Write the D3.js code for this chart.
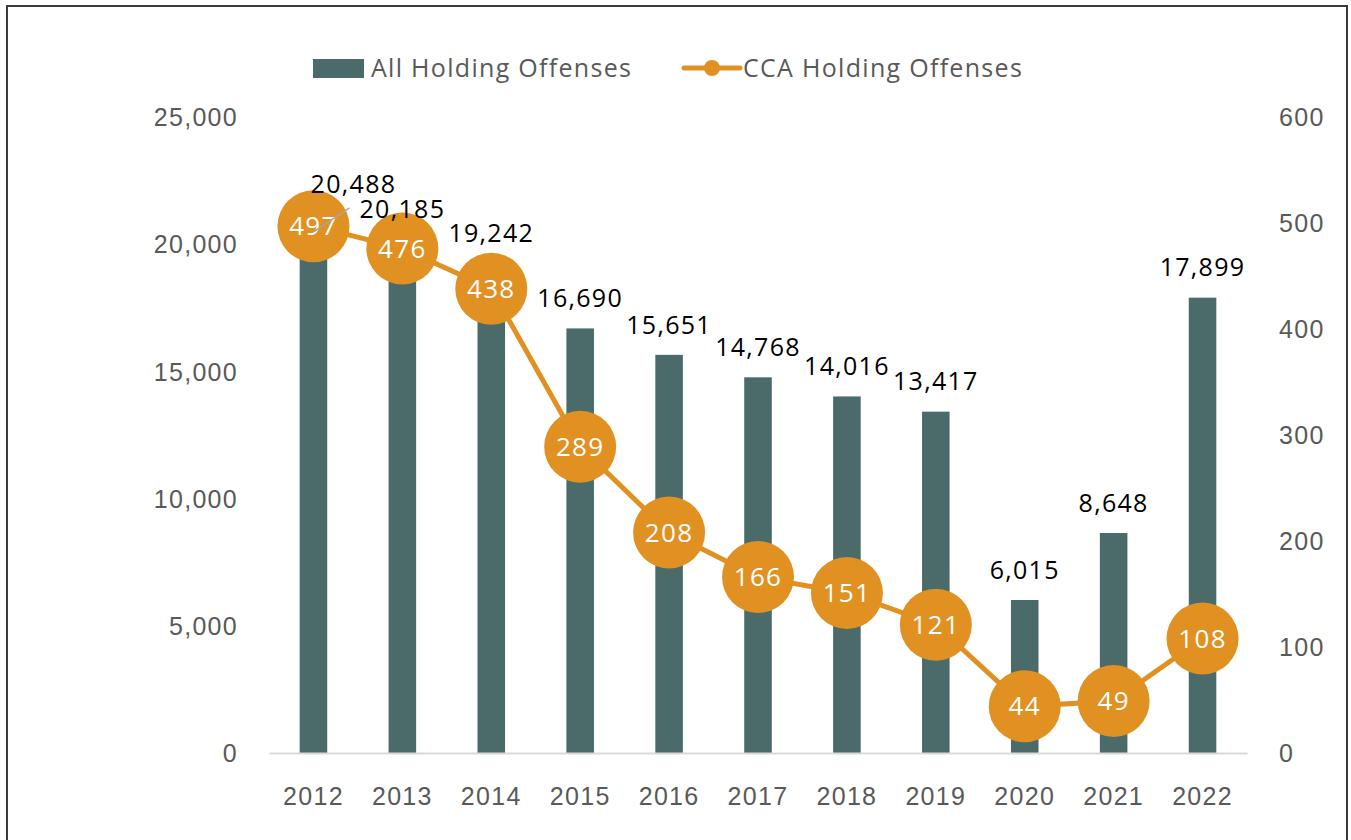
<!DOCTYPE html>
<html>
<head>
<meta charset="utf-8">
<script src="https://cdn.jsdelivr.net/npm/d3@7/dist/d3.min.js"></script>
<style>
  html, body { margin: 0; padding: 0; background: #fff; }
  svg { display: block; font-family: "Open Sans", "Noto Sans", sans-serif; letter-spacing: 1.3px; }
</style>
</head>
<body>
<svg id="chart" width="1351" height="840"></svg>
<script>
// Yearly totals of holding offenses and the CCA subset
const years = ["2012", "2013", "2014", "2015", "2016", "2017", "2018", "2019", "2020", "2021", "2022"];
const allOffenses = [20488, 20185, 19242, 16690, 15651, 14768, 14016, 13417, 6015, 8648, 17899];
const ccaOffenses = [497, 476, 438, 289, 208, 166, 151, 121, 44, 49, 108];
const leftTicks = [0, 5000, 10000, 15000, 20000, 25000];
const rightTicks = [0, 100, 200, 300, 400, 500, 600];
const seriesNames = ["All Holding Offenses", "CCA Holding Offenses"];

const barColor = "#4b6b6b";
const lineColor = "#e19122";
const textGray = "#595959";
const fontSize = 25;

const svg = d3.select("#chart");

// outer frame
svg.append("rect")
  .attr("x", 7).attr("y", 6).attr("width", 1340).attr("height", 850)
  .attr("fill", "none").attr("stroke", "#3a3a3a").attr("stroke-width", 2);

const plot = { left: 269, right: 1247, top: 117, bottom: 753 };

const x = d3.scaleBand().domain(years).range([plot.left, plot.right]).paddingInner(0.69).paddingOuter(0.345);
const yL = d3.scaleLinear().domain([0, 25000]).range([plot.bottom, plot.top]);
const yR = d3.scaleLinear().domain([0, 600]).range([plot.bottom, plot.top]);
const cx = d => x(d) + x.bandwidth() / 2;

// left axis
const leftAxis = svg.append("g").attr("transform", `translate(${plot.left - 31},0)`)
  .call(d3.axisLeft(yL).tickValues(leftTicks).tickSize(0).tickPadding(0).tickFormat(d3.format(",")));
leftAxis.select(".domain").remove();
leftAxis.selectAll("text").attr("fill", textGray).attr("font-size", fontSize).attr("dy", "0.35em");

// right axis
const rightAxis = svg.append("g").attr("transform", `translate(${plot.right + 32},0)`)
  .call(d3.axisRight(yR).tickValues(rightTicks).tickSize(0).tickPadding(0));
rightAxis.select(".domain").remove();
rightAxis.selectAll("text").attr("fill", textGray).attr("font-size", fontSize).attr("dy", "0.35em");

// bars
svg.append("g").selectAll("rect").data(years).join("rect")
  .attr("x", d => x(d))
  .attr("width", x.bandwidth())
  .attr("y", (d, i) => yL(allOffenses[i]))
  .attr("height", (d, i) => yL(0) - yL(allOffenses[i]))
  .attr("fill", barColor);

// category axis
const bottomAxis = svg.append("g").attr("transform", `translate(0,${plot.bottom})`)
  .call(d3.axisBottom(x).tickSize(0).tickPadding(34));
bottomAxis.select(".domain").attr("stroke", "#d9d9d9").attr("stroke-width", 2);
bottomAxis.selectAll("text").attr("fill", textGray).attr("font-size", fontSize);

// CCA line
const line = d3.line().x(d => cx(d[0])).y(d => yR(d[1]));
svg.append("path")
  .datum(years.map((d, i) => [d, ccaOffenses[i]]))
  .attr("d", line)
  .attr("fill", "none")
  .attr("stroke", lineColor)
  .attr("stroke-width", 5);

const markers = svg.append("g").selectAll("g").data(years).join("g")
  .attr("transform", (d, i) => `translate(${cx(d)},${yR(ccaOffenses[i])})`);
markers.append("circle").attr("r", 36).attr("fill", lineColor);
markers.append("text")
  .attr("text-anchor", "middle").attr("dy", "0.35em")
  .attr("font-size", fontSize + 1).attr("fill", "#fff")
  .text((d, i) => ccaOffenses[i]);

// bar value labels, on top of the markers (the first one lifted aside with a leader line)
const labelOffset = years.map((d, i) => i === 0 ? 48 : 30);
svg.append("line")
  .attr("x1", cx(years[0])).attr("y1", yL(allOffenses[0]))
  .attr("x2", cx(years[0]) + 36).attr("y2", yL(allOffenses[0]) - 24)
  .attr("stroke", "#a6a6a6").attr("stroke-width", 1.5);
svg.append("g").selectAll("text").data(years).join("text")
  .attr("x", (d, i) => cx(d) + (i === 0 ? 40 : 0))
  .attr("y", (d, i) => yL(allOffenses[i]) - labelOffset[i])
  .attr("dy", "0.35em")
  .attr("text-anchor", "middle")
  .attr("font-size", fontSize)
  .attr("fill", "#000")
  .text((d, i) => d3.format(",")(allOffenses[i]));

// legend
const legend = svg.append("g");
legend.append("rect").attr("x", 313).attr("y", 59).attr("width", 51).attr("height", 19).attr("fill", barColor);
legend.append("text").attr("x", 371).attr("y", 68).attr("dy", "0.35em")
  .attr("font-size", fontSize).attr("fill", textGray).text(seriesNames[0]);
legend.append("line").attr("x1", 684).attr("x2", 740).attr("y1", 68).attr("y2", 68)
  .attr("stroke", lineColor).attr("stroke-width", 5).attr("stroke-linecap", "round");
legend.append("circle").attr("cx", 712).attr("cy", 68).attr("r", 8).attr("fill", lineColor);
legend.append("text").attr("x", 743).attr("y", 68).attr("dy", "0.35em")
  .attr("font-size", fontSize).attr("fill", textGray).text(seriesNames[1]);
</script>
</body>
</html>
